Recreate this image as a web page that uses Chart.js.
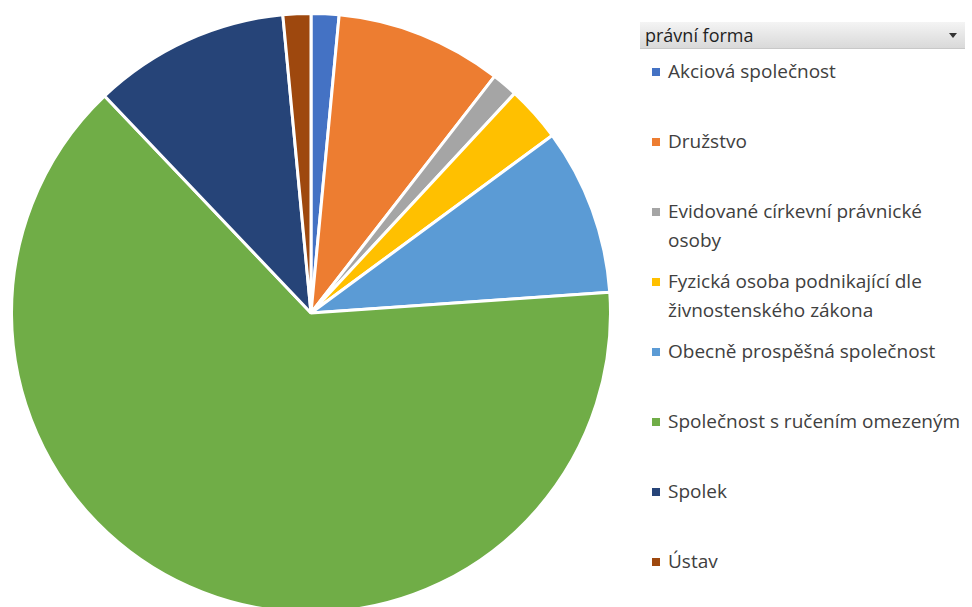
<!DOCTYPE html>
<html>
<head>
  <title>právní forma</title>
  <script src="https://cdn.jsdelivr.net/npm/chart.js@4.4.1/dist/chart.umd.min.js"></script>
  <style>
    body {
      margin: 0;
      width: 972px;
      height: 607px;
      overflow: hidden;
      background: #fff;
      font-family: "Open Sans", "Noto Sans", Arial, sans-serif;
      position: relative;
    }
    #pie-box {
      position: absolute;
      left: 10px;
      top: 12px;
      width: 602px;
      height: 602px;
    }
    .legend-head {
      position: absolute;
      left: 640px;
      top: 22px;
      width: 325px;
      height: 27px;
      background: linear-gradient(#f4f4f4, #d9d9d9);
      border-bottom: 1px solid #c8c8c8;
      color: #1f1f1f;
      font-size: 18px;
      line-height: 27px;
      box-sizing: border-box;
      padding-left: 5px;
    }
    .legend-head .arrow {
      position: absolute;
      right: 8px;
      top: 11px;
      width: 0;
      height: 0;
      border-left: 4px solid transparent;
      border-right: 4px solid transparent;
      border-top: 5px solid #333;
    }
    .item {
      position: absolute;
      left: 651px;
      width: 321px;
      color: #404040;
      font-size: 19px;
      line-height: 29px;
    }
    .item .sw {
      position: absolute;
      left: 1px;
      top: 11px;
      width: 8px;
      height: 8px;
    }
    .item .txt {
      position: absolute;
      left: 17px;
      width: 304px;
    }
  </style>
</head>
<body>
  <div id="pie-box"><canvas id="pie"></canvas></div>
  <div class="legend-head">právní forma<span class="arrow"></span></div>
  <div id="legend"></div>

  <script>
    // share of each legal form (%)
    const labels = [
      'Akciová společnost',
      'Družstvo',
      'Evidované církevní právnické osoby',
      'Fyzická osoba podnikající dle živnostenského zákona',
      'Obecně prospěšná společnost',
      'Společnost s ručením omezeným',
      'Spolek',
      'Ústav'
    ];
    const values = [1.5, 9.0, 1.4, 3.0, 9.0, 64.0, 10.6, 1.5];
    const colors = ['#4472C4', '#ED7D31', '#A5A5A5', '#FFC000', '#5B9BD5', '#70AD47', '#264478', '#9E480E'];

    new Chart(document.getElementById('pie'), {
      type: 'pie',
      data: {
        labels: labels,
        datasets: [{
          data: values,
          backgroundColor: colors,
          borderColor: '#ffffff',
          borderWidth: 3
        }]
      },
      options: {
        responsive: true,
        maintainAspectRatio: false,
        animation: false,
        layout: { padding: 0 },
        plugins: {
          legend: { display: false },
          tooltip: { enabled: false }
        }
      }
    });

    // legend on the right, one row every 70px
    const legend = document.getElementById('legend');
    labels.forEach((name, i) => {
      const div = document.createElement('div');
      div.className = 'item';
      div.style.top = (72 + 70 * i - 15) + 'px';
      div.innerHTML = '<span class="sw" style="background:' + colors[i] + '"></span><span class="txt">' + name + '</span>';
      legend.appendChild(div);
    });
  </script>
</body>
</html>
